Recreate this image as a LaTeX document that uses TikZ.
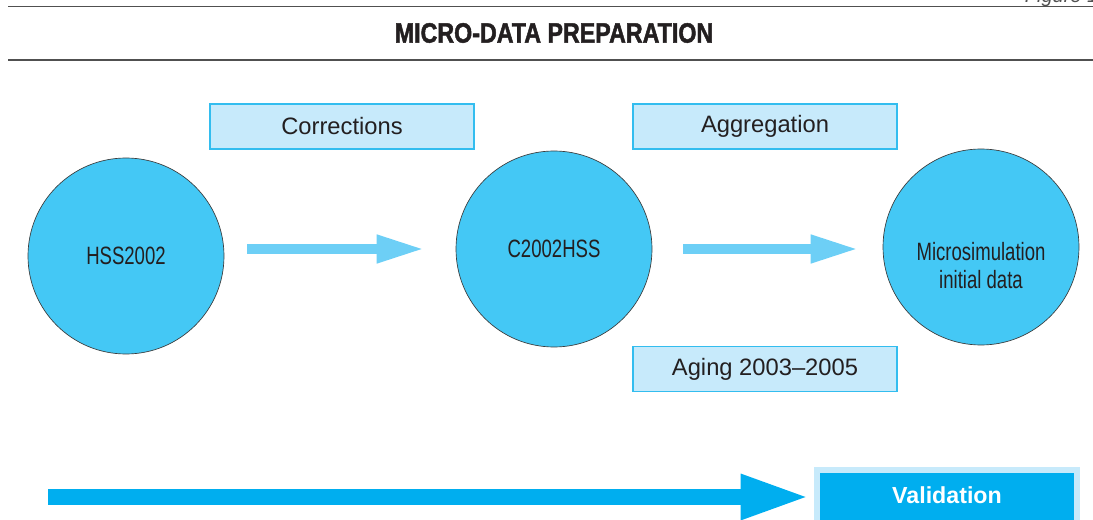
\documentclass[tikz,border=0pt]{standalone}
\usepackage{fontspec}
\setmainfont{Liberation Sans}
\newfontfamily\condfont[FakeStretch=0.74]{Liberation Sans}
\newfontfamily\headfont[FakeStretch=0.83, BoldFeatures={FakeBold=1.6}]{Liberation Sans}
\usetikzlibrary{arrows.meta,positioning}
\definecolor{ballfill}{HTML}{44C8F5}
\definecolor{rim}{HTML}{3A3A3A}
\definecolor{ink}{HTML}{231F20}
\definecolor{boxfill}{HTML}{C7EAFB}
\definecolor{boxline}{HTML}{33BDEF}
\definecolor{arrowblue}{HTML}{6DCFF6}
\definecolor{deepblue}{HTML}{00AEEF}
\definecolor{rulegray}{HTML}{505050}
\tikzset{
  ball/.style={circle, draw=rim, line width=0.5pt, fill=ballfill, minimum size=147pt,
    inner sep=0pt, font=\condfont\fontsize{18.8}{21}\selectfont, text=ink, align=center},
  stepbox/.style={draw=boxline, line width=1pt, fill=boxfill, minimum width=198pt,
    minimum height=33.75pt, inner sep=0pt, font=\fontsize{17.8}{21}\selectfont, text=ink},
  flow/.style={-{Triangle[length=36pt, width=19.5pt]}, line width=7.5pt, draw=arrowblue},
  bigflow/.style={-{Triangle[length=52pt, width=31pt]}, line width=12pt, draw=deepblue},
  rule/.style={draw=rulegray, line width=1.3pt},
}

\begin{document}
\begin{tikzpicture}[x=0.75pt, y=-0.75pt]
\useasboundingbox (0,0) rectangle (1093,520);

% header
\node[anchor=base east, font=\itshape\fontsize{15}{18}\selectfont, text=rulegray] (fig) at (1103,3) {Figure 1};
\draw[rule] (8,6.5) -- (1093,6.5);
\node[font=\headfont\bfseries\fontsize{21}{25}\selectfont, text=ink] (title) at (554,33) {MICRO-DATA PREPARATION};
\draw[rule] (8,60) -- (1093,60);

% data sets
\node[ball] (hss) at (126,256) {HSS2002};
\node[ball] (c2002) at (554,249) {C2002HSS};
\node[ball, label={[font=\condfont\fontsize{18.8}{21}\selectfont, text=ink, align=center, yshift=-14.25pt]center:Microsimulation\\initial data}] (micro) at (981,247) {};

% processing steps
\node[stepbox] (corr) at (342,126.5) {Corrections};
\node[stepbox] (aggr) at (765,126.5) {Aggregation};
\node[stepbox] (aging) at (765,369) {Aging 2003--2005};

\draw[flow, shorten <=17.25pt, shorten >=23.25pt] (hss.east |- c2002.center) -- (c2002.west);
\draw[flow, shorten <=23.25pt, shorten >=18pt] (c2002.east) -- (c2002.center -| micro.west);

% validation
\node[draw=boxfill, line width=4.5pt, fill=deepblue, minimum width=195pt, minimum height=45pt,
  text height=12pt, text depth=7.5pt, font=\bfseries\fontsize{17.4}{21}\selectfont, text=white] (valid) at (947,500) {Validation};
\coordinate (vstart) at (48,497);
\draw[bigflow, shorten >=3pt] (vstart) -- (vstart -| valid.west);

\end{tikzpicture}
\end{document}
